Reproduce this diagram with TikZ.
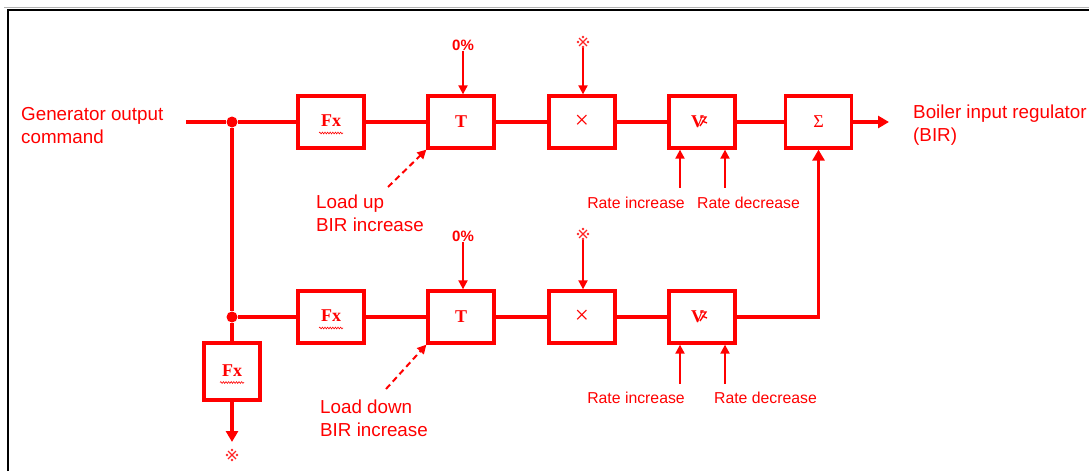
\documentclass[tikz,border=0pt]{standalone}
\usepackage{fontspec}
\setmainfont{Liberation Sans}
\newfontfamily\boxfont{Liberation Serif}
\usetikzlibrary{arrows.meta,decorations.pathmorphing}

\begin{document}
\begin{tikzpicture}[x=1pt,y=-1pt,
  flow/.style={draw=red, line width=3.3pt},
  thin/.style={draw=red, line width=2pt},
  bigtip/.style={-{Triangle[length=11pt,width=12pt]}},
  smalltip/.style={-{Triangle[length=9pt,width=9pt]}},
  blk/.style={draw=red, line width=3.3pt, fill=white, minimum width=66pt,
    minimum height=52pt, inner sep=0pt, text=red,
    font=\boxfont\bfseries\fontsize{18}{18}\selectfont},
  lbl/.style={text=red, font=\fontsize{18.8}{23}\selectfont, align=left, inner sep=0pt},
  ratelbl/.style={text=red, font=\fontsize{15.8}{18}\selectfont, inner sep=0pt},
  pct/.style={text=red, font=\bfseries\fontsize{15}{16}\selectfont, inner sep=0pt},
  refmark/.style={inner sep=0pt, minimum size=12pt},
  wavy/.style={draw=red, line width=0.6pt, decorate,
    decoration={snake, amplitude=0.9pt, segment length=2.6pt}},
  dot/.style={circle, fill=red, inner sep=0pt, minimum size=11pt}
]
\useasboundingbox (0,0) rectangle (1089,471);

% frame
\draw[gray!60, line width=0.6pt] (4,7.5) -- (1089,7.5);
\draw[black, line width=1.6pt] (8,471) -- (8,10) -- (1089,10);

% upper chain
\node[blk] (fx1) at (331,122) {\raisebox{2pt}{Fx}};
\node[blk] (t1)  at (461,122) {T};
\node[blk, font=\boxfont\fontsize{25}{25}\selectfont] (x1) at (582,122) {×};
\node[blk] (v1)  at (702,122) {V\kern9pt};
\node[blk, font=\boxfont\fontsize{18}{18}\selectfont] (sum) at (818.5,122) {Σ};

% lower chain
\node[blk] (fx2) at (331,317) {\raisebox{2pt}{Fx}};
\node[blk] (t2)  at (461,317) {T};
\node[blk, font=\boxfont\fontsize{25}{25}\selectfont] (x2) at (582,317) {×};
\node[blk] (v2)  at (702,317) {V\kern9pt};

% branch block
\node[blk, minimum width=56pt, minimum height=57pt] (fx3) at (232,371.5) {\raisebox{2pt}{Fx}};

% wavy underlines of the Fx blocks
\foreach \b in {fx1,fx2,fx3}
  \draw[wavy] ([shift={(-12,11)}]\b.center) -- ++(24,0);

% rate-limit marks beside the V
\foreach \b in {v1,v2}
  \draw[red, line width=1.3pt] ([shift={(-2,-5)}]\b.center) -- ([shift={(4,-5)}]\b.center)
    -- ([shift={(-2,4)}]\b.center)
    ([shift={(0,-1)}]\b.center) -- ([shift={(5,1)}]\b.center);

% junctions
\node[dot] (j1) at (232,122) {};
\node[dot] (j2) at (232,317) {};

% texts
\node[lbl, anchor=west] (gen) at (21,125.5) {Generator output\\command};
\node[lbl, anchor=west] (bir) at (913,125.5) {Boiler input regulator\\(BIR)};
\node[lbl, anchor=north west] (lup) at (316,195) {Load up\\BIR increase};
\node[lbl, anchor=north west] (ldn) at (320,400) {Load down\\BIR increase};

\node[pct] (p1) at (463,45) {0\%};
\node[pct] (p2) at (463,236) {0\%};
\node[refmark] (m1) at (583,42) {};
\node[refmark] (m2) at (583,234) {};
\node[refmark] (m3) at (232,455) {};

% reference marks: a cross with four dots
\foreach \m in {m1,m2,m3} {
  \draw[red!85, line width=1.3pt]
    ([shift={(-4,-4)}]\m.center) -- ([shift={(4,4)}]\m.center)
    ([shift={(-4,4)}]\m.center) -- ([shift={(4,-4)}]\m.center);
  \foreach \dx/\dy in {0/-5, 0/5, -5/0, 5/0}
    \fill[red!85] ([shift={(\dx,\dy)}]\m.center) circle (1.3pt);
}

\node[ratelbl] (ri1) at (636,203) {Rate increase};
\node[ratelbl] (rd1) at (748.5,203) {Rate decrease};
\node[ratelbl] (ri2) at (636,398) {Rate increase};
\node[ratelbl] (rd2) at (765.5,398) {Rate decrease};

% free ends
\coordinate (gin) at (186,122);
\coordinate (bout) at (889,122);
\coordinate (fxout) at (232,442);
\coordinate (lu) at (388,187);
\coordinate (ld) at (386,389);

% main signal lines
\draw[flow] (gin) -- (j1) -- (fx1);
\draw[flow] (fx1) -- (t1);
\draw[flow] (t1) -- (x1);
\draw[flow] (x1) -- (v1);
\draw[flow] (v1) -- (sum);
\draw[flow, bigtip] (sum) -- (bout);
\draw[flow] (j1) -- (j2) -- (fx3);
\draw[flow] (j2) -- (fx2);
\draw[flow] (fx2) -- (t2);
\draw[flow] (t2) -- (x2);
\draw[flow] (x2) -- (v2);
\draw[flow, bigtip] (v2.east) -| (sum.south);
\draw[flow, bigtip] (fx3) -- (fxout);

% set-point and gain inputs
\draw[thin, smalltip] (p1) -- (t1.north -| p1);
\draw[thin, smalltip] (p2) -- (t2.north -| p2);
\draw[thin, smalltip] (m1) -- (x1.north -| m1);
\draw[thin, smalltip] (m2) -- (x2.north -| m2);

% rate limits
\draw[thin, smalltip] ([shift={(-22,38)}]v1.south) -- ([xshift=-22pt]v1.south);
\draw[thin, smalltip] ([shift={(23,38)}]v1.south) -- ([xshift=23pt]v1.south);
\draw[thin, smalltip] ([shift={(-22,39)}]v2.south) -- ([xshift=-22pt]v2.south);
\draw[thin, smalltip] ([shift={(23,39)}]v2.south) -- ([xshift=23pt]v2.south);

% load tracking
\draw[thin, dashed, dash pattern=on 6pt off 4pt, smalltip] (lu) -- (t1.south west);
\draw[thin, dashed, dash pattern=on 6pt off 4pt, smalltip] (ld) -- (t2.south west);
\end{tikzpicture}
\end{document}
